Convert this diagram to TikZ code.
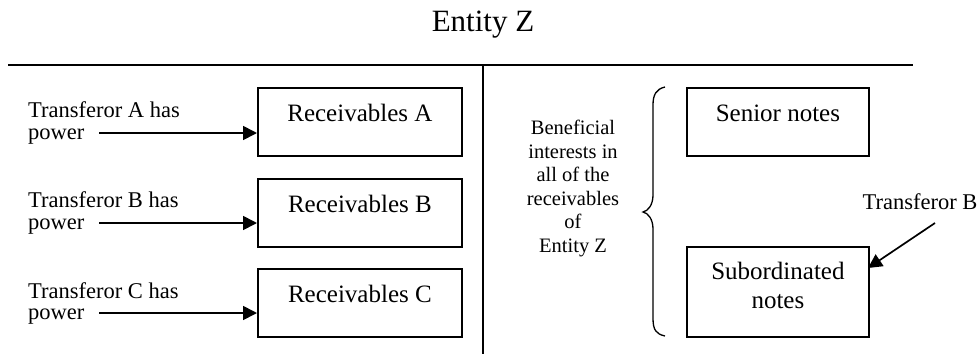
\documentclass[tikz,border=0pt]{standalone}
\usepackage{fontspec}
\setmainfont{Liberation Serif}
\usetikzlibrary{arrows.meta}
\begin{document}
\begin{tikzpicture}[x=1pt,y=-1pt,
  box/.style={draw,line width=1.8pt,minimum width=204pt,minimum height=68pt,inner sep=0pt,anchor=north west},
  boxtxt/.style={font=\fontsize{25}{29}\selectfont,inner sep=0pt,align=center},
  lbl/.style={font=\fontsize{22.5}{27}\selectfont,inner sep=0pt,anchor=west},
  arr/.style={line width=1.7pt,-{Triangle[length=14pt,width=14pt]}},
  rule/.style={line width=1.4pt}]
\useasboundingbox (0,0) rectangle (979,354);
% title
\node[font=\fontsize{31}{36}\selectfont,inner sep=0pt] (title) at (483,25) {Entity Z};
% rules
\coordinate (hl) at (8,65);
\coordinate (hr) at (913,65);
\coordinate (vt) at (483,65);
\coordinate (vb) at (483,354);
\draw[rule] (hl) -- (hr);
\draw[rule] (vt) -- (vb);
% left boxes
\node[box] (ra) at (257,87) {};
\node[box] (rb) at (257,178) {};
\node[box] (rc) at (257,268) {};
\node[boxtxt] (ta) at ([yshift=-26pt]ra.north) {Receivables A};
\node[boxtxt] (tb) at ([yshift=-26pt]rb.north) {Receivables B};
\node[boxtxt] (tc) at ([yshift=-26pt]rc.north) {Receivables C};
% left labels
\node[lbl] (la1) at (28,110) {Transferor A has};
\node[lbl] (la2) at (28,137) {power};
\node[lbl] (lb1) at (28,200) {Transferor B has};
\node[lbl] (lb2) at (28,227) {power};
\node[lbl] (lc1) at (28,291) {Transferor C has};
\node[lbl] (lc2) at (28,317) {power};
\coordinate (sa) at (99,133);
\coordinate (sb) at (99,223);
\coordinate (sc) at (99,313);
\draw[arr] (sa) -- (sa -| ra.west);
\draw[arr] (sb) -- (sb -| rb.west);
\draw[arr] (sc) -- (sc -| rc.west);
% right side
\node[font=\fontsize{20.5}{23.5}\selectfont,align=center,inner sep=0pt] (ben) at (573,188.5)
  {Beneficial\\interests in\\all of the\\receivables\\of\\Entity Z};
\draw[line width=1.3pt] (665,87) .. controls (656,89) and (653,95) .. (653,105) -- (653,195)
  .. controls (653,205) and (648,211) .. (643,212)
  .. controls (648,213) and (653,219) .. (653,229) -- (653,318)
  .. controls (653,330) and (656,334) .. (665,336);
\node[box,minimum width=182pt] (sn) at (686,87) {};
\node[boxtxt] (snt) at ([yshift=-26pt]sn.north) {Senior notes};
\node[box,minimum width=182pt,minimum height=90pt] (sub) at (686,246) {};
\node[boxtxt] (subt) at ([yshift=-39.5pt]sub.north) {Subordinated\\notes};
\node[font=\fontsize{22.5}{27}\selectfont,inner sep=0pt] (trb) at (920,202) {Transferor B};
\coordinate (tbs) at (935,223);
\draw[arr] (tbs) -- (868,268);
\end{tikzpicture}
\end{document}
